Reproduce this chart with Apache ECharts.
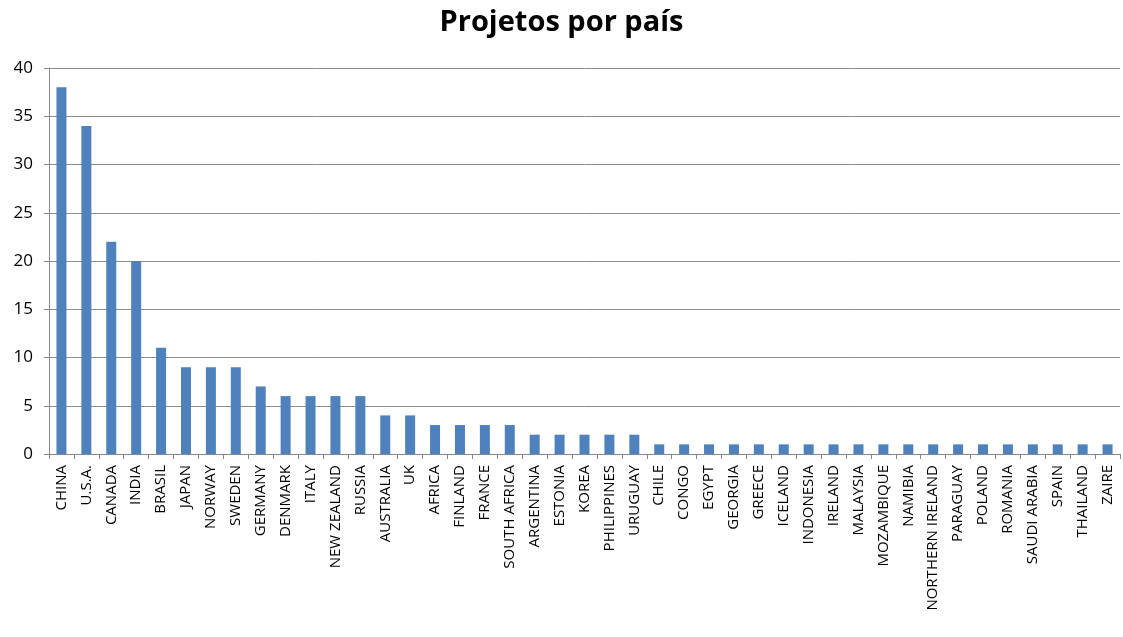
<!DOCTYPE html>
<html>
<head>
<meta charset="utf-8">
<script src="https://cdn.jsdelivr.net/npm/echarts@6/dist/echarts.min.js"></script>
<style>
  html, body { margin: 0; padding: 0; background: #ffffff; }
  #chart { width: 1123px; height: 637px; }
</style>
</head>
<body>
<div id="chart"></div>
<script>
// Projects per country
const countries = [
  'CHINA', 'U.S.A.', 'CANADA', 'INDIA', 'BRASIL', 'JAPAN', 'NORWAY', 'SWEDEN',
  'GERMANY', 'DENMARK', 'ITALY', 'NEW ZEALAND', 'RUSSIA', 'AUSTRALIA', 'UK',
  'AFRICA', 'FINLAND', 'FRANCE', 'SOUTH AFRICA', 'ARGENTINA', 'ESTONIA', 'KOREA',
  'PHILIPPINES', 'URUGUAY', 'CHILE', 'CONGO', 'EGYPT', 'GEORGIA', 'GREECE',
  'ICELAND', 'INDONESIA', 'IRELAND', 'MALAYSIA', 'MOZAMBIQUE', 'NAMIBIA',
  'NORTHERN IRELAND', 'PARAGUAY', 'POLAND', 'ROMANIA', 'SAUDI ARABIA', 'SPAIN',
  'THAILAND', 'ZAIRE'
];
const projects = [
  38, 34, 22, 20, 11, 9, 9, 9,
  7, 6, 6, 6, 6, 4, 4,
  3, 3, 3, 3, 2, 2, 2,
  2, 2, 1, 1, 1, 1, 1,
  1, 1, 1, 1, 1, 1,
  1, 1, 1, 1, 1, 1,
  1, 1
];
const chartTitle = 'Projetos por país';

const font = '"Open Sans", "Noto Sans", sans-serif';
const chart = echarts.init(document.getElementById('chart'), null, { renderer: 'canvas' });
chart.setOption({
  animation: false,
  backgroundColor: '#ffffff',
  title: {
    text: chartTitle,
    left: 'center',
    top: 3,
    textStyle: { fontFamily: font, fontSize: 29, fontWeight: 'bold', color: '#000000' }
  },
  grid: { left: 49, right: 3, top: 68, bottom: 183, containLabel: false },
  xAxis: {
    type: 'category',
    data: countries,
    boundaryGap: true,
    axisLine: { show: true, lineStyle: { color: '#888888', width: 1 } },
    axisTick: { show: true, alignWithLabel: false, length: 5, lineStyle: { color: '#888888' } },
    axisLabel: {
      interval: 0,
      rotate: 90,
      margin: 11,
      color: '#000000',
      fontFamily: font,
      fontSize: 15
    },
    splitLine: { show: false }
  },
  yAxis: {
    type: 'value',
    min: 0,
    max: 40,
    interval: 5,
    axisLine: { show: true, lineStyle: { color: '#888888', width: 1 } },
    axisTick: { show: true, length: 5, lineStyle: { color: '#888888' } },
    axisLabel: { color: '#000000', fontFamily: font, fontSize: 17, margin: 16 },
    splitLine: { show: true, lineStyle: { color: '#8c8c8c', width: 1 } }
  },
  series: [{
    type: 'bar',
    data: projects,
    barWidth: 10,
    itemStyle: { color: '#4f81bd' }
  }]
});
</script>
</body>
</html>
